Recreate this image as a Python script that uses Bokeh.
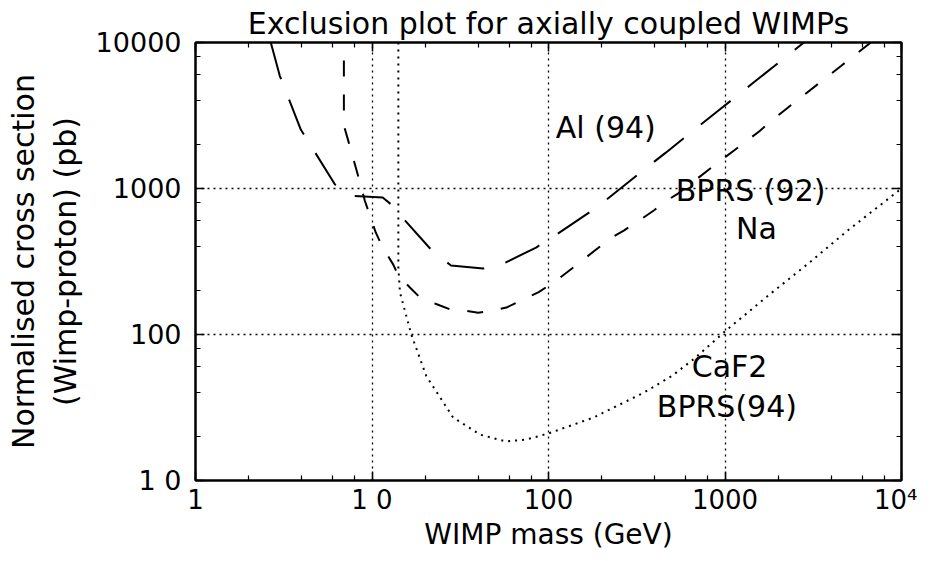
from bokeh.plotting import figure
from bokeh.models import LogAxis, LogTicker, Label
from bokeh.embed import file_html
from bokeh.resources import INLINE

# --- data ---
al_mass = [2.67, 3.0, 3.95, 6.17, 7.8, 11.5, 12.8, 15, 21.6, 28, 42.6, 57, 85, 111, 180, 228, 360, 462, 712, 949, 1422, 1897, 2800]
al_sigma = [10000, 5940, 2535, 1065, 890, 867, 780, 624, 382, 297, 283, 311, 394, 484, 718, 895, 1390, 1760, 2680, 3530, 5210, 6870, 10000]

na_mass = [6.93, 6.93, 7.3, 8.55, 9.1, 10.5, 11.5, 13.2, 14.1, 16.4, 18.7, 24.3, 28, 33, 40, 47.5, 57.7, 72, 88, 111, 142,
           180, 228, 267, 333, 395, 468, 533, 961, 1125, 1334, 1560, 1897, 2250, 3800, 4560, 5400, 6700]
na_sigma = [7540, 2700, 2170, 1100, 828, 500, 394, 301, 253, 210, 179, 158, 148, 146, 141, 146, 153, 174, 195, 235, 295,
            370, 461, 515, 614, 707, 828, 910, 1580, 1820, 2130, 2460, 3010, 3550, 5830, 6930, 8150, 10000]

caf_mass = [14.1, 14.1, 14.4, 16.7, 20.3, 28.8, 41, 57.7, 75, 100, 180, 347, 500, 667, 1000, 1730, 3000, 5000, 10000]
caf_sigma = [10000, 290, 194, 100, 52, 27, 20.6, 18.5, 19.1, 21, 27, 40, 52, 68, 105, 182, 310, 520, 1000]

x_ticks = [1, 10, 100, 1000, 10000]
x_tick_labels = ["1", "1 0", "100", "1000", "10\u2074"]
y_ticks = [10, 100, 1000, 10000]
y_tick_labels = ["1 0", "100", "1000", "10000"]

label_texts = ["Al (94)", "BPRS (92)", "Na", "CaF2", "BPRS(94)"]
label_mass = [110, 526, 1155, 648, 411]
label_sigma = [2620, 968, 532, 60.4, 32.1]

FONT = "DejaVu Sans"

p = figure(width=917, height=553, x_axis_type="log", y_axis_type="log",
           x_range=(1, 10000), y_range=(10, 10000),
           output_backend="svg", toolbar_location=None,
           min_border_left=195, min_border_right=16, min_border_top=42, min_border_bottom=65,
           title="Exclusion plot for axially coupled WIMPs")

p.title.text_font = FONT
p.title.text_font_size = "30px"
p.title.text_font_style = "normal"
p.title.text_color = "black"
p.title.align = "center"
p.title.standoff = 4

p.background_fill_color = "white"
p.border_fill_color = "white"
p.outline_line_color = "black"
p.outline_line_width = 2

for ax in (p.xaxis[0], p.yaxis[0]):
    ax.major_label_text_font = FONT
    ax.major_label_text_color = "black"
    ax.axis_label_text_font = FONT
    ax.axis_label_text_color = "black"
    ax.axis_label_text_font_style = "normal"
    ax.major_tick_in = 9
    ax.major_tick_out = 0
    ax.minor_tick_in = 5
    ax.minor_tick_out = 0
    ax.axis_line_color = "black"
    ax.axis_line_width = 2
    ax.major_tick_line_color = "black"
    ax.minor_tick_line_color = "black"
    ax.major_tick_line_width = 1.5
    ax.minor_tick_line_width = 1.2

p.xaxis.major_label_text_font_size = "26px"
p.yaxis.major_label_text_font_size = "27px"
p.xaxis.axis_label_text_font_size = "28px"
p.yaxis.axis_label_text_font_size = "30px"

p.xaxis.ticker = LogTicker(mantissas=[1], desired_num_ticks=5)
p.yaxis.ticker = LogTicker(mantissas=[1], desired_num_ticks=4)
p.xaxis.major_label_overrides = {t: l for t, l in zip(x_ticks, x_tick_labels)}
p.yaxis.major_label_overrides = {t: l for t, l in zip(y_ticks, y_tick_labels)}
p.xaxis.axis_label = "WIMP mass (GeV)"
p.yaxis.axis_label = "Normalised cross section\n(Wimp-proton) (pb)"
p.xaxis.major_label_standoff = 4
p.xaxis.axis_label_standoff = 0
p.yaxis.major_label_standoff = 14
p.yaxis.axis_label_standoff = 10

for side, dim in (("right", "y"), ("above", "x")):
    ax = LogAxis(ticker=LogTicker(mantissas=[1], desired_num_ticks=5 if dim == "x" else 4),
                 major_label_text_font_size="2px", major_label_text_alpha=0.0, major_label_standoff=0,
                 major_tick_in=9, major_tick_out=0, minor_tick_in=5, minor_tick_out=0,
                 axis_line_color="black", axis_line_width=2,
                 major_tick_line_color="black", minor_tick_line_color="black",
                 major_tick_line_width=1.5, minor_tick_line_width=1.2)
    p.add_layout(ax, side)

p.xgrid.grid_line_color = "black"
p.ygrid.grid_line_color = "black"
p.xgrid.grid_line_dash = "2 4"
p.ygrid.grid_line_dash = "2 4"
p.xgrid.grid_line_width = 1.3
p.ygrid.grid_line_width = 1.3

p.line(al_mass, al_sigma, line_color="black", line_width=2, line_dash="38 22")
p.line(na_mass, na_sigma, line_color="black", line_width=2, line_dash="16 18")
p.line(caf_mass, caf_sigma, line_color="black", line_width=2, line_dash="2 5")

for t, mx, sy in zip(label_texts, label_mass, label_sigma):
    p.add_layout(Label(x=mx, y=sy, text=t, text_font=FONT, text_font_size="30px",
                       text_baseline="middle", text_align="left", text_color="black"))

open("out.html", "w").write(file_html(p, INLINE))
